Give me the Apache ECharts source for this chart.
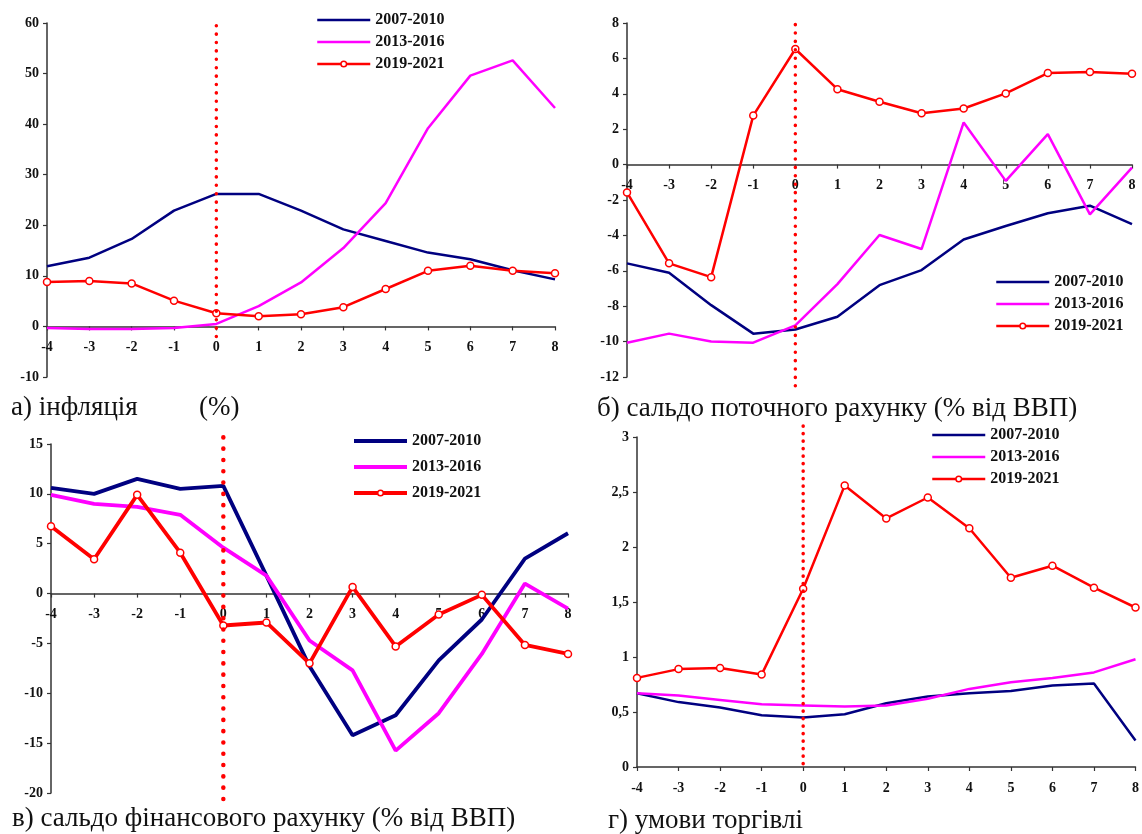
<!DOCTYPE html>
<html><head><meta charset="utf-8">
<script src="https://cdn.jsdelivr.net/npm/echarts@6/dist/echarts.min.js"></script>
<style>html,body{margin:0;padding:0;background:#fff}#c{width:1142px;height:834px}</style>
</head><body><div id="c"></div>
<script>
// ---- data ----
const periods = ['2007-2010', '2013-2016', '2019-2021'];
const quarters = [-4, -3, -2, -1, 0, 1, 2, 3, 4, 5, 6, 7, 8];

// а) інфляція (%)
const inflation2007 = [11.9, 13.6, 17.3, 22.9, 26.2, 26.2, 22.9, 19.2, 16.9, 14.6, 13.3, 11.1, 9.3];
const inflation2013 = [-0.3, -0.5, -0.5, -0.3, 0.5, 4.0, 8.7, 15.5, 24.4, 39.2, 49.6, 52.6, 43.2];
const inflation2019 = [8.8, 9.0, 8.5, 5.1, 2.6, 2.0, 2.4, 3.8, 7.4, 11.0, 12.0, 11.0, 10.5];

// б) сальдо поточного рахунку (% від ВВП)
const current2007 = [-5.58, -6.11, -7.94, -9.55, -9.32, -8.6, -6.81, -5.96, -4.23, -3.47, -2.75, -2.32, -3.36];
const current2013 = [-10.06, -9.55, -10.0, -10.06, -9.08, -6.75, -3.98, -4.77, 2.38, -0.92, 1.72, -2.81, -0.17];
const current2019 = [-1.57, -5.58, -6.36, 2.77, 6.53, 4.26, 3.55, 2.9, 3.17, 4.02, 5.17, 5.23, 5.13];

// в) сальдо фінансового рахунку (% від ВВП)
const financial2007 = [10.6, 10.0, 11.5, 10.5, 10.8, 1.8, -7.3, -14.2, -12.2, -6.7, -2.6, 3.5, 6.05];
const financial2013 = [9.9, 9.0, 8.7, 7.9, 4.6, 1.8, -4.7, -7.7, -15.75, -12.0, -6.05, 1.0, -1.5];
const financial2019 = [6.76, 3.44, 9.9, 4.1, -3.2, -2.9, -7.0, 0.67, -5.3, -2.1, -0.13, -5.15, -6.05];

// г) умови торгівлі
const terms2007 = [0.67, 0.59, 0.54, 0.47, 0.45, 0.48, 0.58, 0.64, 0.67, 0.69, 0.74, 0.76, 0.24];
const terms2013 = [0.67, 0.65, 0.61, 0.57, 0.56, 0.55, 0.56, 0.62, 0.71, 0.77, 0.81, 0.86, 0.98];
const terms2019 = [0.81, 0.89, 0.90, 0.84, 1.62, 2.56, 2.26, 2.45, 2.17, 1.72, 1.83, 1.63, 1.45];

// y-axis settings per panel
const yMins = [-10, -12, -20, 0];
const yMaxs = [60, 8, 15, 3];
const yIntervals = [10, 2, 5, 0.5];
// extent of the dotted marker line at x = 0
const markerX = 0;
const markerLow = [-2, -12.5, -20.6, 0.03];
const markerHigh = [60.4, 8.2, 15.9, 3.14];

const captions = ['а) інфляція', 'б) сальдо поточного рахунку (% від ВВП)', 'в) сальдо фінансового рахунку (% від ВВП)', 'г) умови торгівлі'];

// ---- build ----
const panelData = [
  [inflation2007, inflation2013, inflation2019],
  [current2007, current2013, current2019],
  [financial2007, financial2013, financial2019],
  [terms2007, terms2013, terms2019]
];
const colors = ['#000080', '#FF00FF', '#FF0000'];
const lineWidths = [2.5, 2.5, 3.8, 2.5];
const grids = [
  {left: 47, top: 23, width: 508, height: 354},
  {left: 627, top: 23, width: 505, height: 354},
  {left: 51, top: 444, width: 517, height: 349},
  {left: 637, top: 437, width: 506, height: 330}
];
const dotGap = [8.3, 8.3, 11.2, 7.4];
const dotW = [3.5, 3.5, 4.5, 3.5];
const FONT = '"Liberation Serif", "Times New Roman", serif';
const axisColor = '#333';

const xAxis = [], yAxis = [], series = [];
grids.forEach((g, i) => {
  // place the x axis at y = 0 (pixel offset from grid bottom)
  const zeroOffset = -(0 - yMins[i]) / (yMaxs[i] - yMins[i]) * g.height;
  xAxis.push({
    type: 'value', gridIndex: i, min: -4, max: 8, interval: 1,
    position: 'bottom', offset: zeroOffset,
    axisLine: {onZero: false, lineStyle: {color: axisColor, width: 1.5}},
    axisTick: {show: true, length: 4, lineStyle: {color: axisColor, width: 1.2}},
    axisLabel: {color: '#111', fontFamily: FONT, fontWeight: 'bold', fontSize: 14, margin: 14},
    splitLine: {show: false}
  });
  yAxis.push({
    type: 'value', gridIndex: i, min: yMins[i], max: yMaxs[i], interval: yIntervals[i],
    axisLine: {show: true, onZero: false, lineStyle: {color: axisColor, width: 1.5}},
    axisTick: {show: true, length: 4, lineStyle: {color: axisColor, width: 1.2}},
    axisLabel: {color: '#111', fontFamily: FONT, fontWeight: 'bold', fontSize: 14, margin: 8,
      formatter: v => String(v).replace('.', ',')},
    splitLine: {show: false}
  });
  panelData[i].forEach((vals, k) => {
    const isMarked = k === 2;
    series.push({
      type: 'line', name: periods[k], xAxisIndex: i, yAxisIndex: i,
      data: quarters.map((q, j) => [q, vals[j]]),
      color: colors[k],
      lineStyle: {color: colors[k], width: lineWidths[i]},
      symbol: isMarked ? 'circle' : 'none',
      showSymbol: isMarked,
      symbolSize: 7,
      itemStyle: {color: '#fff', borderColor: colors[k], borderWidth: 1.5},
      clip: false, z: 2 + k
    });
  });
  series.push({
    type: 'line', name: 'marker' + i, xAxisIndex: i, yAxisIndex: i,
    data: [[markerX, markerLow[i]], [markerX, markerHigh[i]]],
    symbol: 'none', silent: true, clip: false, z: 10,
    lineStyle: {color: '#FF0000', width: dotW[i], type: [0.1, dotGap[i]], cap: 'round'}
  });
});

function legendAt(left, top, lw, gap) {
  return {
    orient: 'vertical', left: left, top: top,
    data: periods.map((p, k) => k === 2
      ? {name: p, itemStyle: {color: '#fff', borderColor: colors[k], borderWidth: 1.5}}
      : {name: p, itemStyle: {opacity: 0}}),
    itemWidth: 53, itemHeight: 7, itemGap: gap,
    lineStyle: {width: lw},
    selectedMode: false,
    textStyle: {fontFamily: FONT, fontWeight: 'bold', fontSize: 16, color: '#111', padding: [0, 0, 0, 0]},
    padding: 0
  };
}

const capStyle = {fontFamily: FONT, fontSize: 27, fill: '#111'};
const graphic = [
  {type: 'text', left: 11, top: 394, style: Object.assign({text: captions[0]}, capStyle)},
  {type: 'text', left: 199, top: 394, style: Object.assign({text: '(%)'}, capStyle)},
  {type: 'text', left: 597, top: 395, style: Object.assign({text: captions[1]}, capStyle)},
  {type: 'text', left: 12, top: 805, style: Object.assign({text: captions[2]}, capStyle)},
  {type: 'text', left: 608, top: 807, style: Object.assign({text: captions[3]}, capStyle)}
];

const chart = echarts.init(document.getElementById('c'), null, {renderer: 'canvas'});
chart.setOption({
  animation: false,
  backgroundColor: '#fff',
  grid: grids,
  xAxis: xAxis,
  yAxis: yAxis,
  legend: [legendAt(316, 12, 2.5, 6), legendAt(995, 274, 2.5, 6), legendAt(352, 433, 4, 10), legendAt(931, 427, 2.5, 6)],
  series: series,
  graphic: graphic
});
</script>
</body></html>
